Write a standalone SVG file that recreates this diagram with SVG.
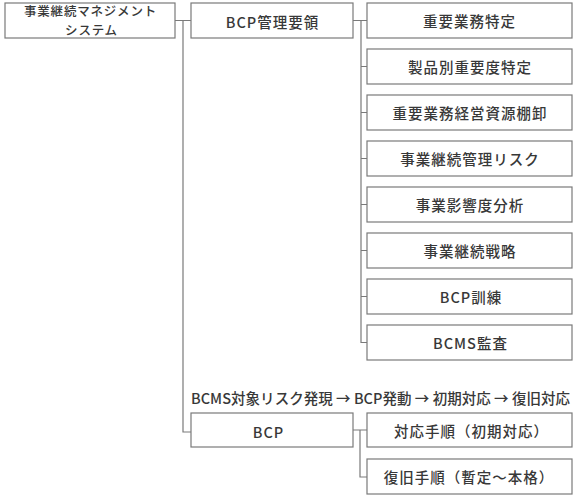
<svg xmlns="http://www.w3.org/2000/svg" width="581" height="496" viewBox="0 0 581 496">
<style>
.box{fill:#fff;stroke:#7a7a7a;stroke-width:1.2}
.ln{fill:none;stroke:#7a7a7a;stroke-width:1.2}
text{font-family:"Noto Sans CJK JP","Noto Sans",sans-serif;font-size:14.5px;font-weight:500;letter-spacing:1px;fill:#383838;text-anchor:middle}
.sm{font-size:12.5px;letter-spacing:0.8px}
.lbl{text-anchor:start;letter-spacing:0}
</style>
<rect width="581" height="496" fill="#fff"/>
<g id="connectors">
<path class="ln" d="M175,20.5H191M183,20.5V432H191"/>
<path class="ln" d="M353,20.5H367M361,20.5V342.5H367M361,66.5H367M361,112.5H367M361,158.5H367M361,204.5H367M361,250.5H367M361,296.5H367"/>
<path class="ln" d="M353,430H367M360,430V477H367"/>
</g>
<g id="n-bcms"><rect class="box" x="5" y="3" width="170" height="35"/><text class="sm" x="90.5" y="16.3">事業継続マネジメント</text><text class="sm" x="91.5" y="34.6">システム</text></g>
<g id="n-bcpkanri"><rect class="box" x="191" y="3" width="162" height="35"/><text x="272.5" y="28">BCP管理要領</text></g>
<g id="n-1"><rect class="box" x="367" y="3" width="205" height="35"/><text x="469.5" y="27">重要業務特定</text></g>
<g id="n-2"><rect class="box" x="367" y="49" width="205" height="35"/><text x="470" y="73">製品別重要度特定</text></g>
<g id="n-3"><rect class="box" x="367" y="95" width="205" height="35"/><text x="470" y="119">重要業務経営資源棚卸</text></g>
<g id="n-4"><rect class="box" x="367" y="141" width="205" height="35"/><text x="470" y="165">事業継続管理リスク</text></g>
<g id="n-5"><rect class="box" x="367" y="187" width="205" height="35"/><text x="470" y="211">事業影響度分析</text></g>
<g id="n-6"><rect class="box" x="367" y="233" width="205" height="35"/><text x="470" y="257">事業継続戦略</text></g>
<g id="n-7"><rect class="box" x="367" y="279" width="205" height="35"/><text x="471" y="303">BCP訓練</text></g>
<g id="n-8"><rect class="box" x="367" y="325" width="205" height="35"/><text x="470.5" y="349">BCMS監査</text></g>
<text class="lbl" x="191" y="404" textLength="379" lengthAdjust="spacing">BCMS対象リスク発現 → BCP発動 → 初期対応 → 復旧対応</text>
<g id="n-bcp"><rect class="box" x="191" y="413" width="162" height="34"/><text x="268.5" y="438">BCP</text></g>
<g id="n-taiou"><rect class="box" x="367" y="413" width="205" height="34"/><text x="471.5" y="437">対応手順（初期対応）</text></g>
<g id="n-fukkyu"><rect class="box" x="367" y="459" width="205" height="35"/><text x="469" y="483">復旧手順（暫定〜本格）</text></g>
</svg>
